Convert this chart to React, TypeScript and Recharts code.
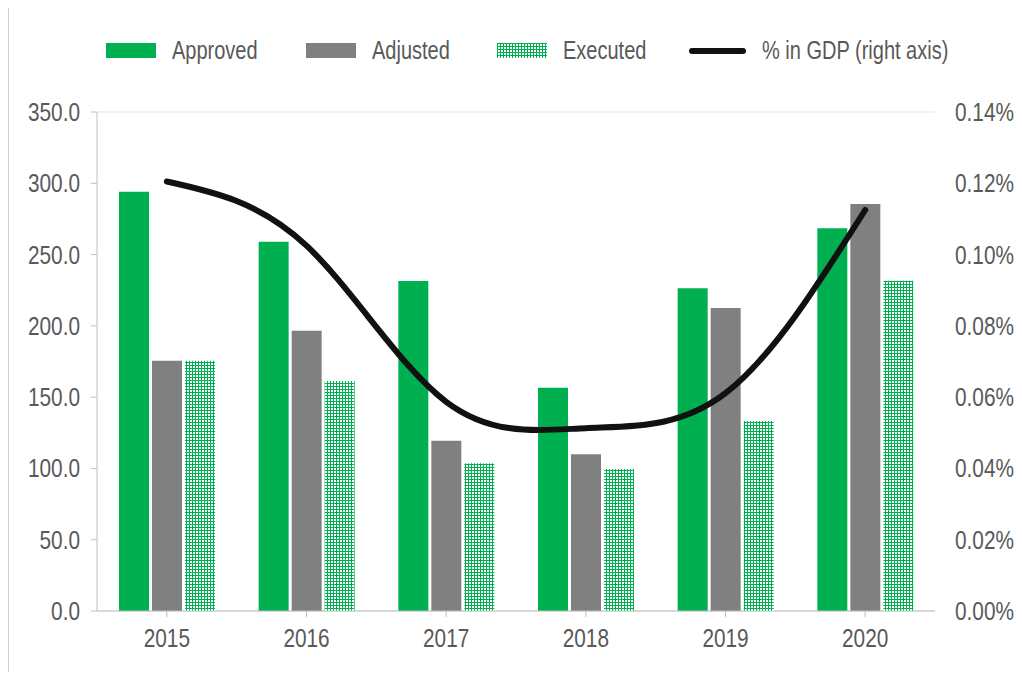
import React from "react";
import {
  ComposedChart,
  Bar,
  Line,
  XAxis,
  YAxis,
  CartesianGrid,
} from "recharts";

const years = ["2015", "2016", "2017", "2018", "2019", "2020"];
const approved = [294, 259, 231.4, 156.6, 226.3, 268.4];
const adjusted = [175.5, 196.6, 119.4, 110, 212.5, 285.4];
const executed = [175.5, 161.3, 103.6, 99.6, 133.2, 231.6];
const gdpShare = [0.1205, 0.1025, 0.0587, 0.0513, 0.0611, 0.1125];

const leftTicks = [0, 50, 100, 150, 200, 250, 300, 350];
const rightTicks = [0, 0.02, 0.04, 0.06, 0.08, 0.1, 0.12, 0.14];

const GREEN = "#00B050";
const GREY = "#808080";
const TEXT = "#595959";
const FONT = "'Liberation Sans', Arial, sans-serif";
const SQUEEZE = 0.8; // narrow the glyphs, the original uses a condensed face

const data = years.map((year, i) => ({
  year,
  approved: approved[i],
  adjusted: adjusted[i],
  executed: executed[i],
  gdp: gdpShare[i],
}));

const legendItems = [
  { label: "Approved", kind: "green", left: 97 },
  { label: "Adjusted", kind: "grey", left: 297 },
  { label: "Executed", kind: "pattern", left: 488 },
  { label: "% in GDP (right axis)", kind: "line", left: 679 },
];

function Swatch({ kind }: { kind: string }) {
  if (kind === "line") {
    return (
      <svg width={58} height={16}>
        <line x1={4} y1={8} x2={55} y2={8} stroke="#111" strokeWidth={6} strokeLinecap="round" />
      </svg>
    );
  }
  if (kind === "pattern") {
    return (
      <svg width={50} height={15}>
        <defs>
          <pattern id="legendDots" width={3} height={3} patternUnits="userSpaceOnUse">
            <rect width={3} height={3} fill={GREEN} />
            <rect x={1} y={1} width={2} height={2} fill="#fff" />
          </pattern>
        </defs>
        <rect width={50} height={15} fill="url(#legendDots)" />
      </svg>
    );
  }
  return <div style={{ width: 50, height: 15, background: kind === "green" ? GREEN : GREY }} />;
}

type TickProps = {
  x?: number;
  y?: number;
  payload?: { value: number | string };
  textAnchor?: string;
  fmt?: (v: any) => string;
  dy?: number;
};

function NarrowTick({ x = 0, y = 0, payload, textAnchor = "middle", fmt, dy = 0 }: TickProps) {
  const v = payload ? payload.value : "";
  return (
    <g transform={`translate(${x},${y}) scale(${SQUEEZE},1)`}>
      <text
        x={0}
        y={0}
        dy={dy}
        textAnchor={textAnchor as any}
        fill={TEXT}
        fontSize={26}
        fontFamily={FONT}
      >
        {fmt ? fmt(v) : String(v)}
      </text>
    </g>
  );
}

export default function App() {
  return (
    <div
      style={{
        position: "relative",
        width: 1006,
        height: 664,
        borderLeft: "1px solid #d0d0d0",
        boxSizing: "border-box",
        fontFamily: FONT,
        background: "#fff",
      }}
    >
      {legendItems.map((item) => (
        <div
          key={item.label}
          style={{
            position: "absolute",
            left: item.left,
            top: 28,
            display: "flex",
            alignItems: "center",
            gap: 16,
            color: TEXT,
            fontSize: 25,
            whiteSpace: "nowrap",
          }}
        >
          <Swatch kind={item.kind} />
          <span style={{ display: "inline-block", transform: `scaleX(${SQUEEZE})`, transformOrigin: "left center" }}>
            {item.label}
          </span>
        </div>
      ))}
      <ComposedChart
        width={1005}
        height={664}
        data={data}
        margin={{ top: 104, right: 0, bottom: 31, left: 0 }}
        barGap={3}
        barCategoryGap={22}
        style={{ fontFamily: FONT }}
      >
        <defs>
          <pattern id="execDots" width={3} height={3} patternUnits="userSpaceOnUse">
            <rect width={3} height={3} fill={GREEN} />
            <rect x={1} y={1} width={2} height={2} fill="#fff" />
          </pattern>
        </defs>
        <CartesianGrid vertical={false} stroke="#ececec" strokeWidth={1.5} />
        <XAxis
          dataKey="year"
          stroke="#bfbfbf"
          tickSize={6}
          tickMargin={10}
          tick={<NarrowTick dy={20} />}
          height={30}
        />
        <YAxis
          yAxisId="left"
          domain={[0, 350]}
          ticks={leftTicks}
          interval={0}
          width={88}
          stroke="#bfbfbf"
          tickSize={6}
          tickMargin={11}
          tick={<NarrowTick dy={9} fmt={(v: number) => v.toFixed(1)} />}
        />
        <YAxis
          yAxisId="right"
          orientation="right"
          domain={[0, 0.14]}
          ticks={rightTicks}
          interval={0}
          width={79}
          axisLine={false}
          tickLine={false}
          tickSize={6}
          tickMargin={14}
          tick={<NarrowTick dy={9} fmt={(v: number) => v.toFixed(2) + "%"} />}
        />
        <Bar yAxisId="left" dataKey="approved" fill={GREEN} isAnimationActive={false} />
        <Bar yAxisId="left" dataKey="adjusted" fill={GREY} isAnimationActive={false} />
        <Bar yAxisId="left" dataKey="executed" fill="url(#execDots)" isAnimationActive={false} />
        <Line
          yAxisId="right"
          dataKey="gdp"
          type="natural"
          stroke="#111"
          strokeWidth={6}
          strokeLinecap="round"
          dot={false}
          isAnimationActive={false}
        />
      </ComposedChart>
    </div>
  );
}
